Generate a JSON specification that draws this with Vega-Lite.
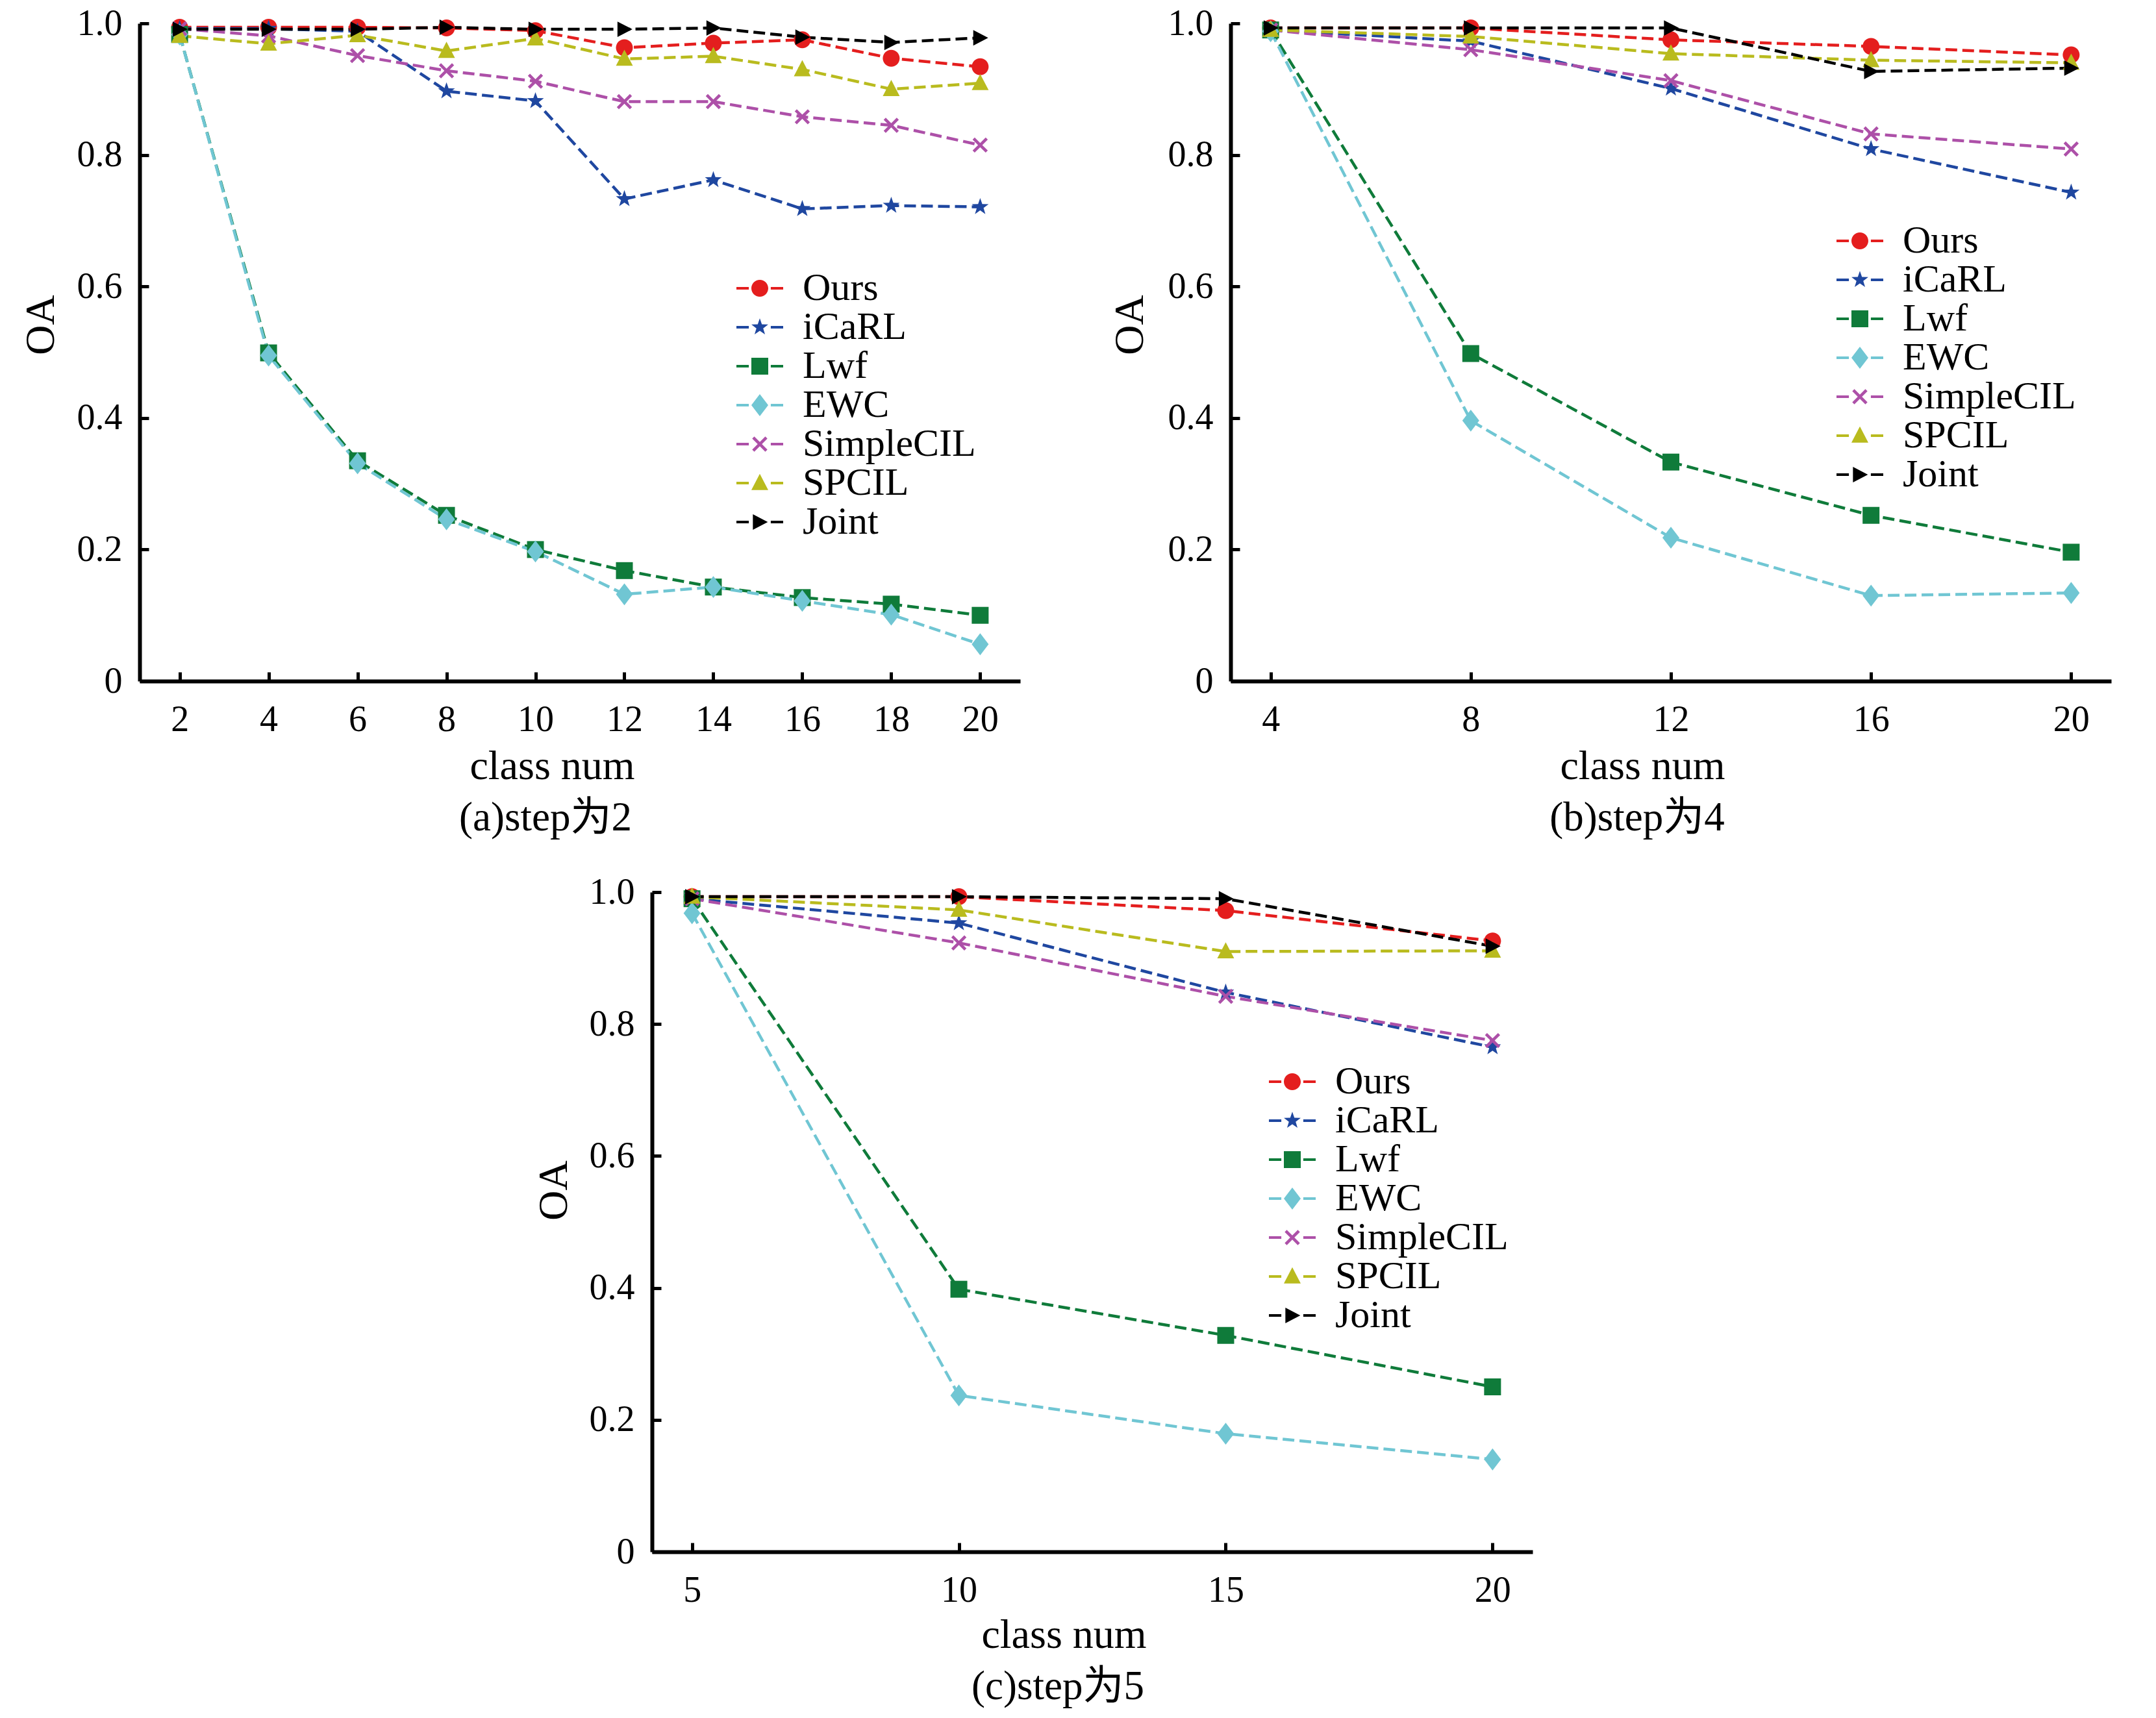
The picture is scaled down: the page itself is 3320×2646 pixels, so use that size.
{
  "$schema": "https://vega.github.io/schema/vega-lite/v6.json",
  "autosize": {"type": "none"},
  "padding": {"left": 215, "top": 36, "right": 3105, "bottom": 2610},
  "background": "white",
  "datasets": {
    "step2": [
      {"method": "Ours", "cls": 2, "oa": 0.994}, {"method": "Ours", "cls": 4, "oa": 0.994}, {"method": "Ours", "cls": 6, "oa": 0.994}, {"method": "Ours", "cls": 8, "oa": 0.993}, {"method": "Ours", "cls": 10, "oa": 0.989},
      {"method": "Ours", "cls": 12, "oa": 0.963}, {"method": "Ours", "cls": 14, "oa": 0.970}, {"method": "Ours", "cls": 16, "oa": 0.975}, {"method": "Ours", "cls": 18, "oa": 0.947}, {"method": "Ours", "cls": 20, "oa": 0.934},
      {"method": "iCaRL", "cls": 2, "oa": 0.992}, {"method": "iCaRL", "cls": 4, "oa": 0.992}, {"method": "iCaRL", "cls": 6, "oa": 0.988}, {"method": "iCaRL", "cls": 8, "oa": 0.897}, {"method": "iCaRL", "cls": 10, "oa": 0.882},
      {"method": "iCaRL", "cls": 12, "oa": 0.733}, {"method": "iCaRL", "cls": 14, "oa": 0.762}, {"method": "iCaRL", "cls": 16, "oa": 0.718}, {"method": "iCaRL", "cls": 18, "oa": 0.723}, {"method": "iCaRL", "cls": 20, "oa": 0.721},
      {"method": "Lwf", "cls": 2, "oa": 0.983}, {"method": "Lwf", "cls": 4, "oa": 0.499}, {"method": "Lwf", "cls": 6, "oa": 0.335}, {"method": "Lwf", "cls": 8, "oa": 0.252}, {"method": "Lwf", "cls": 10, "oa": 0.200},
      {"method": "Lwf", "cls": 12, "oa": 0.168}, {"method": "Lwf", "cls": 14, "oa": 0.143}, {"method": "Lwf", "cls": 16, "oa": 0.127}, {"method": "Lwf", "cls": 18, "oa": 0.117}, {"method": "Lwf", "cls": 20, "oa": 0.100},
      {"method": "EWC", "cls": 2, "oa": 0.983}, {"method": "EWC", "cls": 4, "oa": 0.495}, {"method": "EWC", "cls": 6, "oa": 0.331}, {"method": "EWC", "cls": 8, "oa": 0.246}, {"method": "EWC", "cls": 10, "oa": 0.197},
      {"method": "EWC", "cls": 12, "oa": 0.132}, {"method": "EWC", "cls": 14, "oa": 0.143}, {"method": "EWC", "cls": 16, "oa": 0.122}, {"method": "EWC", "cls": 18, "oa": 0.101}, {"method": "EWC", "cls": 20, "oa": 0.056},
      {"method": "SimpleCIL", "cls": 2, "oa": 0.992}, {"method": "SimpleCIL", "cls": 4, "oa": 0.981}, {"method": "SimpleCIL", "cls": 6, "oa": 0.951}, {"method": "SimpleCIL", "cls": 8, "oa": 0.928}, {"method": "SimpleCIL", "cls": 10, "oa": 0.912},
      {"method": "SimpleCIL", "cls": 12, "oa": 0.881}, {"method": "SimpleCIL", "cls": 14, "oa": 0.881}, {"method": "SimpleCIL", "cls": 16, "oa": 0.858}, {"method": "SimpleCIL", "cls": 18, "oa": 0.845}, {"method": "SimpleCIL", "cls": 20, "oa": 0.815},
      {"method": "SPCIL", "cls": 2, "oa": 0.981}, {"method": "SPCIL", "cls": 4, "oa": 0.969}, {"method": "SPCIL", "cls": 6, "oa": 0.982}, {"method": "SPCIL", "cls": 8, "oa": 0.958}, {"method": "SPCIL", "cls": 10, "oa": 0.977},
      {"method": "SPCIL", "cls": 12, "oa": 0.946}, {"method": "SPCIL", "cls": 14, "oa": 0.950}, {"method": "SPCIL", "cls": 16, "oa": 0.930}, {"method": "SPCIL", "cls": 18, "oa": 0.900}, {"method": "SPCIL", "cls": 20, "oa": 0.909},
      {"method": "Joint", "cls": 2, "oa": 0.991}, {"method": "Joint", "cls": 4, "oa": 0.991}, {"method": "Joint", "cls": 6, "oa": 0.991}, {"method": "Joint", "cls": 8, "oa": 0.994}, {"method": "Joint", "cls": 10, "oa": 0.991},
      {"method": "Joint", "cls": 12, "oa": 0.991}, {"method": "Joint", "cls": 14, "oa": 0.993}, {"method": "Joint", "cls": 16, "oa": 0.979}, {"method": "Joint", "cls": 18, "oa": 0.971}, {"method": "Joint", "cls": 20, "oa": 0.978}
    ],
    "step4": [
      {"method": "Ours", "cls": 4, "oa": 0.993}, {"method": "Ours", "cls": 8, "oa": 0.993}, {"method": "Ours", "cls": 12, "oa": 0.975}, {"method": "Ours", "cls": 16, "oa": 0.965}, {"method": "Ours", "cls": 20, "oa": 0.952},
      {"method": "iCaRL", "cls": 4, "oa": 0.990}, {"method": "iCaRL", "cls": 8, "oa": 0.973}, {"method": "iCaRL", "cls": 12, "oa": 0.901}, {"method": "iCaRL", "cls": 16, "oa": 0.809}, {"method": "iCaRL", "cls": 20, "oa": 0.743},
      {"method": "Lwf", "cls": 4, "oa": 0.990}, {"method": "Lwf", "cls": 8, "oa": 0.498}, {"method": "Lwf", "cls": 12, "oa": 0.333}, {"method": "Lwf", "cls": 16, "oa": 0.252}, {"method": "Lwf", "cls": 20, "oa": 0.196},
      {"method": "EWC", "cls": 4, "oa": 0.988}, {"method": "EWC", "cls": 8, "oa": 0.396}, {"method": "EWC", "cls": 12, "oa": 0.218}, {"method": "EWC", "cls": 16, "oa": 0.130}, {"method": "EWC", "cls": 20, "oa": 0.134},
      {"method": "SimpleCIL", "cls": 4, "oa": 0.990}, {"method": "SimpleCIL", "cls": 8, "oa": 0.960}, {"method": "SimpleCIL", "cls": 12, "oa": 0.913}, {"method": "SimpleCIL", "cls": 16, "oa": 0.832}, {"method": "SimpleCIL", "cls": 20, "oa": 0.809},
      {"method": "SPCIL", "cls": 4, "oa": 0.990}, {"method": "SPCIL", "cls": 8, "oa": 0.980}, {"method": "SPCIL", "cls": 12, "oa": 0.954}, {"method": "SPCIL", "cls": 16, "oa": 0.944}, {"method": "SPCIL", "cls": 20, "oa": 0.940},
      {"method": "Joint", "cls": 4, "oa": 0.993}, {"method": "Joint", "cls": 8, "oa": 0.993}, {"method": "Joint", "cls": 12, "oa": 0.993}, {"method": "Joint", "cls": 16, "oa": 0.927}, {"method": "Joint", "cls": 20, "oa": 0.932}
    ],
    "step5": [
      {"method": "Ours", "cls": 5, "oa": 0.993}, {"method": "Ours", "cls": 10, "oa": 0.993}, {"method": "Ours", "cls": 15, "oa": 0.972}, {"method": "Ours", "cls": 20, "oa": 0.926},
      {"method": "iCaRL", "cls": 5, "oa": 0.990}, {"method": "iCaRL", "cls": 10, "oa": 0.953}, {"method": "iCaRL", "cls": 15, "oa": 0.848}, {"method": "iCaRL", "cls": 20, "oa": 0.765},
      {"method": "Lwf", "cls": 5, "oa": 0.990}, {"method": "Lwf", "cls": 10, "oa": 0.398}, {"method": "Lwf", "cls": 15, "oa": 0.328}, {"method": "Lwf", "cls": 20, "oa": 0.250},
      {"method": "EWC", "cls": 5, "oa": 0.968}, {"method": "EWC", "cls": 10, "oa": 0.237}, {"method": "EWC", "cls": 15, "oa": 0.179}, {"method": "EWC", "cls": 20, "oa": 0.140},
      {"method": "SimpleCIL", "cls": 5, "oa": 0.990}, {"method": "SimpleCIL", "cls": 10, "oa": 0.923}, {"method": "SimpleCIL", "cls": 15, "oa": 0.842}, {"method": "SimpleCIL", "cls": 20, "oa": 0.775},
      {"method": "SPCIL", "cls": 5, "oa": 0.993}, {"method": "SPCIL", "cls": 10, "oa": 0.973}, {"method": "SPCIL", "cls": 15, "oa": 0.910}, {"method": "SPCIL", "cls": 20, "oa": 0.911},
      {"method": "Joint", "cls": 5, "oa": 0.993}, {"method": "Joint", "cls": 10, "oa": 0.993}, {"method": "Joint", "cls": 15, "oa": 0.990}, {"method": "Joint", "cls": 20, "oa": 0.918}
    ]
  },
  "vconcat": [
    {
      "hconcat": [
        {
          "width": 1356,
          "height": 1013,
          "data": {"name": "step2"},
          "title": {"text": "(a)step为2", "dx": -53},
          "encoding": {
            "x": {"field": "cls", "type": "quantitative", "scale": {"domain": [1.1, 20.9], "nice": false, "zero": false},
                  "axis": {"values": [2, 4, 6, 8, 10, 12, 14, 16, 18, 20], "title": "class num", "titleX": 635, "titleY": 131}},
            "y": {"field": "oa", "type": "quantitative", "scale": {"domain": [0, 1], "nice": false},
                  "axis": {"values": [0, 0.2, 0.4, 0.6, 0.8, 1], "labelExpr": "datum.value === 0 ? '0' : format(datum.value, '.1f')", "title": "OA", "titleX": -152, "titleY": 464}}
          },
          "layer": [
            {"mark": {"type": "line"},
             "encoding": {"color": {"field": "method", "type": "nominal", "legend": null, "scale": {"domain": ["Ours", "iCaRL", "Lwf", "EWC", "SimpleCIL", "SPCIL", "Joint"]}}}},
            {"mark": {"type": "point"},
             "encoding": {"color": {"field": "method", "type": "nominal", "legend": null, "scale": {"domain": ["Ours", "iCaRL", "Lwf", "EWC", "SimpleCIL", "SPCIL", "Joint"]}},
                          "shape": {"field": "method", "type": "nominal", "legend": null, "scale": {"domain": ["Ours", "iCaRL", "Lwf", "EWC", "SimpleCIL", "SPCIL", "Joint"]}}}},
            {"transform": [{"filter": "false"}],
             "mark": {"type": "point"},
             "encoding": {
               "color": {"field": "method", "type": "nominal", "scale": {"domain": ["Ours", "iCaRL", "Lwf", "EWC", "SimpleCIL", "SPCIL", "Joint"]},
                         "legend": {"orient": "none", "legendX": 925, "legendY": 378, "title": null}},
               "shape": {"field": "method", "type": "nominal",
                         "scale": {"domain": ["Ours", "iCaRL", "Lwf", "EWC", "SimpleCIL", "SPCIL", "Joint"],
                                   "range": [
                                     "M-1.399,-0.077L-0.657,-0.077L-0.657,0.077L-1.399,0.077Z M0.657,-0.077L1.399,-0.077L1.399,0.077L0.657,0.077Z M-0.505,0A0.505,0.505,0,1,0,0.505,0A0.505,0.505,0,1,0,-0.505,0Z",
                                     "M-1.399,-0.077L-0.657,-0.077L-0.657,0.077L-1.399,0.077Z M0.657,-0.077L1.399,-0.077L1.399,0.077L0.657,0.077Z M0,-0.53L0.124,-0.172L0.503,-0.164L0.203,0.066L0.312,0.429L0,0.213L-0.312,0.429L-0.203,0.066L-0.503,-0.164L-0.124,-0.172Z",
                                     "M-1.399,-0.077L-0.657,-0.077L-0.657,0.077L-1.399,0.077Z M0.657,-0.077L1.399,-0.077L1.399,0.077L0.657,0.077Z M-0.505,-0.505L0.505,-0.505L0.505,0.505L-0.505,0.505Z",
                                     "M-1.399,-0.077L-0.657,-0.077L-0.657,0.077L-1.399,0.077Z M0.657,-0.077L1.399,-0.077L1.399,0.077L0.657,0.077Z M0,-0.656L0.505,0L0,0.656L-0.505,0Z",
                                     "M-1.399,-0.077L-0.657,-0.077L-0.657,0.077L-1.399,0.077Z M0.657,-0.077L1.399,-0.077L1.399,0.077L0.657,0.077Z M-0.455,-0.329L-0.329,-0.455L0,-0.126L0.329,-0.455L0.455,-0.329L0.126,0L0.455,0.329L0.329,0.455L0,0.126L-0.329,0.455L-0.455,0.329L-0.126,0Z",
                                     "M-1.399,-0.077L-0.657,-0.077L-0.657,0.077L-1.399,0.077Z M0.657,-0.077L1.399,-0.077L1.399,0.077L0.657,0.077Z M0,-0.555L0.505,0.414L-0.505,0.414Z",
                                     "M-1.399,-0.077L-0.657,-0.077L-0.657,0.077L-1.399,0.077Z M0.657,-0.077L1.399,-0.077L1.399,0.077L0.657,0.077Z M0.48,0L-0.414,-0.464L-0.414,0.464Z"
                                   ]},
                         "legend": {"orient": "none", "legendX": 925, "legendY": 378, "title": null}}
             }}
          ],
          "resolve": {"scale": {"color": "independent", "shape": "independent"}, "legend": {"color": "independent", "shape": "independent"}}
        },
        {
          "width": 1356,
          "height": 1013,
          "data": {"name": "step4"},
          "title": {"text": "(b)step为4", "dx": -52},
          "encoding": {
            "x": {"field": "cls", "type": "quantitative", "scale": {"domain": [3.2, 20.8], "nice": false, "zero": false},
                  "axis": {"values": [4, 8, 12, 16, 20], "title": "class num", "titleX": 634, "titleY": 131}},
            "y": {"field": "oa", "type": "quantitative", "scale": {"domain": [0, 1], "nice": false},
                  "axis": {"values": [0, 0.2, 0.4, 0.6, 0.8, 1], "labelExpr": "datum.value === 0 ? '0' : format(datum.value, '.1f')", "title": "OA", "titleX": -155, "titleY": 464}}
          },
          "layer": [
            {"mark": {"type": "line"},
             "encoding": {"color": {"field": "method", "type": "nominal", "legend": null, "scale": {"domain": ["Ours", "iCaRL", "Lwf", "EWC", "SimpleCIL", "SPCIL", "Joint"]}}}},
            {"mark": {"type": "point"},
             "encoding": {"color": {"field": "method", "type": "nominal", "legend": null, "scale": {"domain": ["Ours", "iCaRL", "Lwf", "EWC", "SimpleCIL", "SPCIL", "Joint"]}},
                          "shape": {"field": "method", "type": "nominal", "legend": null, "scale": {"domain": ["Ours", "iCaRL", "Lwf", "EWC", "SimpleCIL", "SPCIL", "Joint"]}}}},
            {"transform": [{"filter": "false"}],
             "mark": {"type": "point"},
             "encoding": {
               "color": {"field": "method", "type": "nominal", "scale": {"domain": ["Ours", "iCaRL", "Lwf", "EWC", "SimpleCIL", "SPCIL", "Joint"]},
                         "legend": {"orient": "none", "legendX": 939, "legendY": 305, "title": null}},
               "shape": {"field": "method", "type": "nominal",
                         "scale": {"domain": ["Ours", "iCaRL", "Lwf", "EWC", "SimpleCIL", "SPCIL", "Joint"],
                                   "range": [
                                     "M-1.399,-0.077L-0.657,-0.077L-0.657,0.077L-1.399,0.077Z M0.657,-0.077L1.399,-0.077L1.399,0.077L0.657,0.077Z M-0.505,0A0.505,0.505,0,1,0,0.505,0A0.505,0.505,0,1,0,-0.505,0Z",
                                     "M-1.399,-0.077L-0.657,-0.077L-0.657,0.077L-1.399,0.077Z M0.657,-0.077L1.399,-0.077L1.399,0.077L0.657,0.077Z M0,-0.53L0.124,-0.172L0.503,-0.164L0.203,0.066L0.312,0.429L0,0.213L-0.312,0.429L-0.203,0.066L-0.503,-0.164L-0.124,-0.172Z",
                                     "M-1.399,-0.077L-0.657,-0.077L-0.657,0.077L-1.399,0.077Z M0.657,-0.077L1.399,-0.077L1.399,0.077L0.657,0.077Z M-0.505,-0.505L0.505,-0.505L0.505,0.505L-0.505,0.505Z",
                                     "M-1.399,-0.077L-0.657,-0.077L-0.657,0.077L-1.399,0.077Z M0.657,-0.077L1.399,-0.077L1.399,0.077L0.657,0.077Z M0,-0.656L0.505,0L0,0.656L-0.505,0Z",
                                     "M-1.399,-0.077L-0.657,-0.077L-0.657,0.077L-1.399,0.077Z M0.657,-0.077L1.399,-0.077L1.399,0.077L0.657,0.077Z M-0.455,-0.329L-0.329,-0.455L0,-0.126L0.329,-0.455L0.455,-0.329L0.126,0L0.455,0.329L0.329,0.455L0,0.126L-0.329,0.455L-0.455,0.329L-0.126,0Z",
                                     "M-1.399,-0.077L-0.657,-0.077L-0.657,0.077L-1.399,0.077Z M0.657,-0.077L1.399,-0.077L1.399,0.077L0.657,0.077Z M0,-0.555L0.505,0.414L-0.505,0.414Z",
                                     "M-1.399,-0.077L-0.657,-0.077L-0.657,0.077L-1.399,0.077Z M0.657,-0.077L1.399,-0.077L1.399,0.077L0.657,0.077Z M0.48,0L-0.414,-0.464L-0.414,0.464Z"
                                   ]},
                         "legend": {"orient": "none", "legendX": 939, "legendY": 305, "title": null}}
             }}
          ],
          "resolve": {"scale": {"color": "independent", "shape": "independent"}, "legend": {"color": "independent", "shape": "independent"}}
        }
      ],
      "spacing": 324,
      "bounds": "flush",
      "resolve": {"scale": {"color": "independent", "shape": "independent"}, "legend": {"color": "independent", "shape": "independent"}}
    },
    {
      "hconcat": [
        {
          "width": 789,
          "height": 1016,
          "data": {"values": []},
          "mark": {"type": "point", "opacity": 0},
          "encoding": {}
        },
        {
          "width": 1356,
          "height": 1016,
          "data": {"name": "step5"},
          "title": {"text": "(c)step为5", "dx": -53},
          "encoding": {
            "x": {"field": "cls", "type": "quantitative", "scale": {"domain": [4.25, 20.75], "nice": false, "zero": false},
                  "axis": {"values": [5, 10, 15, 20], "title": "class num", "titleX": 634, "titleY": 128}},
            "y": {"field": "oa", "type": "quantitative", "scale": {"domain": [0, 1], "nice": false},
                  "axis": {"values": [0, 0.2, 0.4, 0.6, 0.8, 1], "labelExpr": "datum.value === 0 ? '0' : format(datum.value, '.1f')", "title": "OA", "titleX": -151, "titleY": 459}}
          },
          "layer": [
            {"mark": {"type": "line"},
             "encoding": {"color": {"field": "method", "type": "nominal", "legend": null, "scale": {"domain": ["Ours", "iCaRL", "Lwf", "EWC", "SimpleCIL", "SPCIL", "Joint"]}}}},
            {"mark": {"type": "point"},
             "encoding": {"color": {"field": "method", "type": "nominal", "legend": null, "scale": {"domain": ["Ours", "iCaRL", "Lwf", "EWC", "SimpleCIL", "SPCIL", "Joint"]}},
                          "shape": {"field": "method", "type": "nominal", "legend": null, "scale": {"domain": ["Ours", "iCaRL", "Lwf", "EWC", "SimpleCIL", "SPCIL", "Joint"]}}}},
            {"transform": [{"filter": "false"}],
             "mark": {"type": "point"},
             "encoding": {
               "color": {"field": "method", "type": "nominal", "scale": {"domain": ["Ours", "iCaRL", "Lwf", "EWC", "SimpleCIL", "SPCIL", "Joint"]},
                         "legend": {"orient": "none", "legendX": 956, "legendY": 262, "title": null}},
               "shape": {"field": "method", "type": "nominal",
                         "scale": {"domain": ["Ours", "iCaRL", "Lwf", "EWC", "SimpleCIL", "SPCIL", "Joint"],
                                   "range": [
                                     "M-1.399,-0.077L-0.657,-0.077L-0.657,0.077L-1.399,0.077Z M0.657,-0.077L1.399,-0.077L1.399,0.077L0.657,0.077Z M-0.505,0A0.505,0.505,0,1,0,0.505,0A0.505,0.505,0,1,0,-0.505,0Z",
                                     "M-1.399,-0.077L-0.657,-0.077L-0.657,0.077L-1.399,0.077Z M0.657,-0.077L1.399,-0.077L1.399,0.077L0.657,0.077Z M0,-0.53L0.124,-0.172L0.503,-0.164L0.203,0.066L0.312,0.429L0,0.213L-0.312,0.429L-0.203,0.066L-0.503,-0.164L-0.124,-0.172Z",
                                     "M-1.399,-0.077L-0.657,-0.077L-0.657,0.077L-1.399,0.077Z M0.657,-0.077L1.399,-0.077L1.399,0.077L0.657,0.077Z M-0.505,-0.505L0.505,-0.505L0.505,0.505L-0.505,0.505Z",
                                     "M-1.399,-0.077L-0.657,-0.077L-0.657,0.077L-1.399,0.077Z M0.657,-0.077L1.399,-0.077L1.399,0.077L0.657,0.077Z M0,-0.656L0.505,0L0,0.656L-0.505,0Z",
                                     "M-1.399,-0.077L-0.657,-0.077L-0.657,0.077L-1.399,0.077Z M0.657,-0.077L1.399,-0.077L1.399,0.077L0.657,0.077Z M-0.455,-0.329L-0.329,-0.455L0,-0.126L0.329,-0.455L0.455,-0.329L0.126,0L0.455,0.329L0.329,0.455L0,0.126L-0.329,0.455L-0.455,0.329L-0.126,0Z",
                                     "M-1.399,-0.077L-0.657,-0.077L-0.657,0.077L-1.399,0.077Z M0.657,-0.077L1.399,-0.077L1.399,0.077L0.657,0.077Z M0,-0.555L0.505,0.414L-0.505,0.414Z",
                                     "M-1.399,-0.077L-0.657,-0.077L-0.657,0.077L-1.399,0.077Z M0.657,-0.077L1.399,-0.077L1.399,0.077L0.657,0.077Z M0.48,0L-0.414,-0.464L-0.414,0.464Z"
                                   ]},
                         "legend": {"orient": "none", "legendX": 956, "legendY": 262, "title": null}}
             }}
          ],
          "resolve": {"scale": {"color": "independent", "shape": "independent"}, "legend": {"color": "independent", "shape": "independent"}}
        }
      ],
      "spacing": 0,
      "bounds": "flush",
      "resolve": {"scale": {"color": "independent", "shape": "independent"}, "legend": {"color": "independent", "shape": "independent"}}
    }
  ],
  "spacing": 54,
  "bounds": "full",
  "resolve": {"scale": {"color": "independent", "shape": "independent"}, "legend": {"color": "independent", "shape": "independent"}},
  "config": {
    "view": {"stroke": null},
    "range": {
      "category": ["#e41e1e", "#1f47a0", "#0f7b3a", "#70c6d3", "#ad50a8", "#b9bb1e", "#000000"],
      "symbol": [
        "M-1,0A1,1,0,1,0,1,0A1,1,0,1,0,-1,0Z",
        "M0,-1.05L0.247,-0.34L0.999,-0.324L0.399,0.13L0.617,0.849L0,0.42L-0.617,0.849L-0.399,0.13L-0.999,-0.324L-0.247,-0.34Z",
        "M-1,-1L1,-1L1,1L-1,1Z",
        "M0,-1.3L1,0L0,1.3L-1,0Z",
        "M-0.9,-0.65L-0.65,-0.9L0,-0.25L0.65,-0.9L0.9,-0.65L0.25,0L0.9,0.65L0.65,0.9L0,0.25L-0.65,0.9L-0.9,0.65L-0.25,0Z",
        "M0,-1.1L1,0.82L-1,0.82Z",
        "M0.95,0L-0.82,-0.92L-0.82,0.92Z"
      ]
    },
    "line": {"strokeWidth": 4.5, "strokeDash": [18, 8]},
    "point": {"filled": true, "opacity": 1, "size": 676, "strokeWidth": 0},
    "axis": {
      "domainColor": "black", "domainWidth": 6, "tickColor": "black", "tickWidth": 5, "tickSize": -14,
      "grid": false, "labelFlush": false, "labelOverlap": false,
      "labelFont": "Liberation Serif", "labelFontSize": 56, "labelColor": "black",
      "titleFont": "Liberation Serif", "titleFontSize": 64, "titleFontWeight": "normal", "titleColor": "black",
      "titleBaseline": "middle"
    },
    "axisX": {"labelPadding": 46},
    "axisY": {"labelPadding": 41},
    "legend": {
      "direction": "vertical", "padding": 0, "labelFont": "Liberation Serif", "labelFontSize": 60, "labelColor": "black",
      "labelLimit": 1000, "labelOffset": 36, "rowPadding": 0, "symbolSize": 2650, "symbolStrokeWidth": 0, "symbolOpacity": 1
    },
    "title": {
      "orient": "bottom", "anchor": "middle", "frame": "group", "offset": 17,
      "font": "Liberation Serif, Noto Sans CJK SC", "fontSize": 63, "fontWeight": "normal", "color": "black"
    }
  }
}
